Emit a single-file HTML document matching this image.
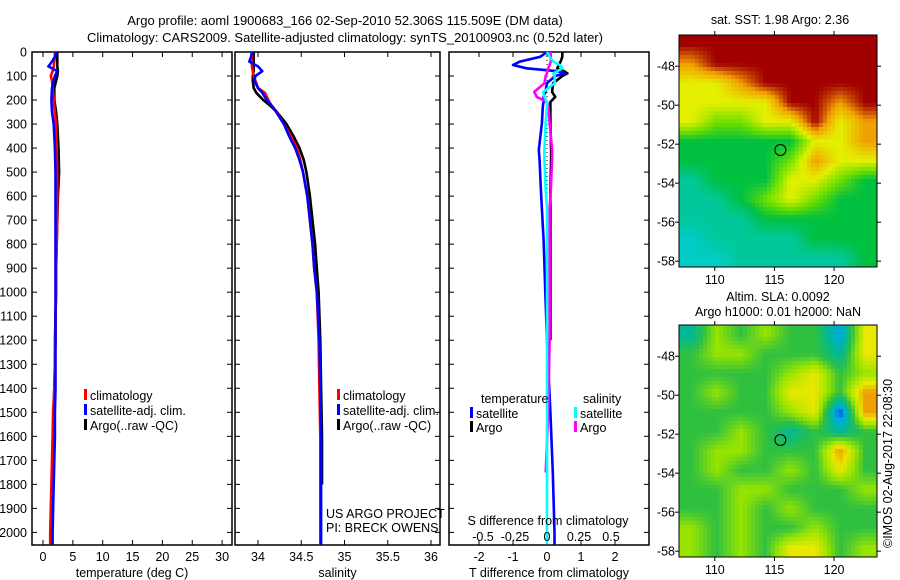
<!DOCTYPE html>
<html><head><meta charset="utf-8"><style>
html,body{margin:0;padding:0;background:#fff;}
svg{display:block;font-family:"Liberation Sans",sans-serif;}
text{font-size:12.5px;fill:#000;}
</style></head><body>
<svg id="fig" width="900" height="580" viewBox="0 0 900 580">
<text x="345" y="25" text-anchor="middle" style="font-size:13px">Argo profile: aoml 1900683_166 02-Sep-2010 52.306S 115.509E (DM data)</text>
<text x="345" y="42" text-anchor="middle" style="font-size:13px">Climatology: CARS2009. Satellite-adjusted climatology: synTS_20100903.nc (0.52d later)</text>
<g id="g"></g>
</svg>
<script>
// ---- data ----
const depthTicks=[0,100,200,300,400,500,600,700,800,900,1000,1100,1200,1300,1400,1500,1600,1700,1800,1900,2000];
const tempTicks=[0,5,10,15,20,25,30];
const salTicks=[34,34.5,35,35.5,36];
const tdiffTicks=[-2,-1,0,1,2];
const sdiffTicks=[-0.5,-0.25,0,0.25,0.5];
const tDepth=[0,20,40,60,80,100,120,150,200,250,300,400,500,600,700,800,900,1000,1100,1200,1300,1400,1500,1600,1700,1800,1900,2000,2050];
const tClim=[2.0,2.0,1.9,1.8,1.6,1.3,1.5,1.6,1.8,2.0,2.2,2.3,2.4,2.4,2.4,2.3,2.2,2.2,2.1,2.0,2.0,1.9,1.7,1.6,1.5,1.4,1.3,1.2,1.2];
const tSat=[2.2,2.0,1.5,0.9,2.4,2.0,1.8,1.5,1.4,1.5,1.8,2.0,2.1,2.1,2.1,2.1,2.1,2.1,2.1,2.1,2.1,2.1,2.0,2.0,1.9,1.8,1.7,1.6,1.6];
const tArgo=[2.4,2.4,2.4,2.4,2.5,2.4,2.2,1.9,1.9,2.2,2.4,2.6,2.7,2.5,2.4,2.3,2.2,2.2,2.1,2.1,2.0,1.9,1.8,1.7,1.6];
const sDepth=[0,20,40,60,80,100,120,150,170,200,220,250,300,350,400,450,500,600,700,800,900,1000,1200,1400,1600,1800,2000,2050];
const sClim=[33.93,33.93,33.93,33.93,33.94,33.95,33.97,34.0,34.08,34.12,34.15,34.22,34.3,34.38,34.45,34.49,34.52,34.57,34.6,34.63,34.65,34.68,34.7,34.71,34.72,34.72,34.72,34.72];
const sSat=[33.93,33.92,33.90,34.0,34.05,33.97,33.96,34.0,34.05,34.10,34.15,34.21,34.3,34.36,34.43,34.48,34.52,34.57,34.6,34.63,34.65,34.68,34.71,34.72,34.73,34.73,34.73,34.73];
const sArgo=[33.95,33.95,33.95,33.95,33.95,33.94,33.94,33.95,33.98,34.06,34.13,34.22,34.33,34.41,34.48,34.53,34.56,34.6,34.63,34.66,34.68,34.70,34.72,34.73,34.74,34.74];
const dDepth=[0,20,40,54,68,80,89,100,130,166,187,208,222,296,408,444,575,653,783,1000,1200,1500,1750,2000,2050];
const dTSat=[0,-0.2,-0.8,-1.0,-0.6,0.3,0.53,0.24,0.0,-0.05,-0.1,-0.1,-0.12,-0.15,-0.24,-0.22,-0.18,-0.15,-0.1,-0.05,0.0,0.1,0.17,0.22,0.22];
const dTArgo=[0.45,0.45,0.4,0.35,0.3,0.5,0.6,0.45,0.18,0.15,0.24,0.1,0.1,0.1,0.12,0.12,0.1,0.1,0.1,0.1,0.1];
const dSSat=[0,0.02,0.05,0.1,0.12,0.08,0.05,0.06,0.06,-0.03,-0.02,0,0,-0.01,-0.02,-0.02,-0.01,0,0,0,0,0,0,0,0];
const dSArgo=[0.03,0.03,0.03,0.02,0.01,0,0,-0.01,-0.02,-0.1,-0.08,0,0.01,0.02,0.04,0.04,0.03,0.02,0.02,0.02,0.02,0.01,-0.01];
const lonTicks=[110,115,120];
const latTicks=[-48,-50,-52,-54,-56,-58];
const sstGrid=[
[6,6,6,6,6,6,6,6],[5,6,6,6,6,6,6,6],[4,4,5,6,6,6,6,6],[4,4,4,4,6,6,5,6],
[4,3,3,4,4,6,4,5],[2,2,2,2,2,4,4,5],[2,2,2,2,3,5,4,4],[1,2,2,2,4,4,3,2],
[1,1,2,3,4,3,2,2],[1,1,1,2,2,2,2,2],[0,1,1,1,1,2,2,2],[0,0,1,1,1,1,1,2]];
const slaGrid=[
[-1,1,0,1,0,0,-2,2],[0,1,1,0,0,0,-1,2],[0,0,0,0,1,2,0,1],[0,1,0,0,2,2,0,3],
[0,0,0,0,1,2,-3,3],[0,0,1,0,-1,0,-1,0],[0,1,1,0,0,0,3,0],[0,1,0,0,1,0,2,0],
[0,0,1,1,0,0,0,1],[0,0,1,0,1,0,0,0],[1,0,1,0,0,1,0,0],[1,0,1,0,2,2,0,1]];
const sstStops=[[0,204,196],[0,200,156],[0,192,64],[112,224,0],[228,240,0],[240,160,0],[160,0,0]];
const slaStops=[[0,64,224],[0,168,224],[0,184,152],[48,192,64],[152,228,0],[232,232,0],[240,160,0]];

const NS="http://www.w3.org/2000/svg";
const G=document.getElementById('g');
function el(tag,attrs,parent){const e=document.createElementNS(NS,tag);for(const k in attrs)e.setAttribute(k,attrs[k]);(parent||G).appendChild(e);return e;}
function txt(x,y,s,anchor,parent){const t=el('text',{x:x,y:y,'text-anchor':anchor||'start'},parent);t.textContent=s;return t;}

const TOP=52,BOT=545;
const yD=d=>TOP+d*0.2402;
const panels=[
 {name:'temperature',x0:32,x1:232,fx:v=>43+v*5.97,ticks:tempTicks,label:'temperature (deg C)'},
 {name:'salinity',x0:235,x1:440,fx:v=>258+(v-34)*86.5,ticks:salTicks,label:'salinity'},
 {name:'difference',x0:449,x1:649,fx:v=>547+v*34,ticks:tdiffTicks,label:'T difference from climatology'}];
const fS=v=>547+v*128;

panels.forEach((p,i)=>{
  const g=el('g',{});
  
  
  const f=el('rect',{x:p.x0,y:TOP,width:p.x1-p.x0,height:BOT-TOP,fill:'none',stroke:'#000','stroke-width':1.5},g);
  
  
  depthTicks.forEach(d=>{
    el('line',{x1:p.x0,x2:p.x0+5,y1:yD(d),y2:yD(d),stroke:'#000'},g);
    el('line',{x1:p.x1,x2:p.x1-5,y1:yD(d),y2:yD(d),stroke:'#000'},g);
  });
  p.ticks.forEach(v=>{
    const x=p.fx(v);
    el('line',{x1:x,x2:x,y1:BOT,y2:BOT-5,stroke:'#000'},g);
    el('line',{x1:x,x2:x,y1:TOP,y2:TOP+5,stroke:'#000'},g);
    const t=txt(x,561,String(v),'middle',g);
    
    
  });
  const xl=txt((p.x0+p.x1)/2,577,p.label,'middle',g);
  
  
});
depthTicks.forEach(d=>{
  const t=txt(27,yD(d)+4.5,String(d),'end');
  
  
});

function line(fx,vals,depths,color,name){
  const pts=vals.map((v,i)=>fx(v).toFixed(1)+','+yD(depths[i]).toFixed(1)).join(' ');
  const pl=el('polyline',{points:pts,fill:'none',stroke:color,'stroke-width':2.6,'stroke-linejoin':'round'});
  
  
}
const fT=panels[0].fx,fSal=panels[1].fx,fD=panels[2].fx;
line(fT,tArgo,tDepth,'#000','temp-argo-line');
line(fT,tClim,tDepth,'#f00','temp-climatology-line');
line(fT,tSat,tDepth,'#00f','temp-satellite-line');
line(fSal,sArgo,sDepth,'#000','sal-argo-line');
line(fSal,sClim,sDepth,'#f00','sal-climatology-line');
line(fSal,sSat,sDepth,'#00f','sal-satellite-line');
el('line',{x1:547,x2:547,y1:TOP,y2:BOT,stroke:'#000','stroke-dasharray':'1,3'});
line(fD,dTArgo,dDepth,'#000','tdiff-argo-line');
line(fD,dTSat,dDepth,'#00f','tdiff-satellite-line');
line(fS,dSArgo,dDepth,'#f0f','sdiff-argo-line');
line(fS,dSSat,dDepth,'#0ff','sdiff-satellite-line');

// legends
function legend(x,y,color,label,name){
  const g=el('g',{});
  
  
  el('rect',{x:x,y:y-11,width:3,height:11,fill:color},g);
  txt(x+6,y,label,'start',g);
}
[[400,'#f00','climatology'],[415,'#00f','satellite-adj. clim.'],[430,'#000','Argo(..raw -QC)']].forEach((r,i)=>{
  legend(84,r[0],r[1],r[2],'legend-entry');
  legend(337,r[0],r[1],r[2],'legend-entry');
});
txt(481,403,'temperature');
txt(583,403,'salinity');
legend(470,418,'#00f','satellite','legend-entry');
legend(470,432,'#000','Argo','legend-entry');
legend(574,418,'#0ff','satellite','legend-entry');
legend(574,432,'#f0f','Argo','legend-entry');
txt(326,518,'US ARGO PROJECT');
txt(326,532,'PI: BRECK OWENS');
txt(548,525,'S difference from climatology','middle');
sdiffTicks.forEach(v=>txt(fS(v),541,String(v),'middle'));

// maps
const LON0=107,LON1=123.6,LAT0=-46.4,LAT1=-58.3;
function cmap(stops,v,off){
  let t=v+off; t=Math.max(0,Math.min(stops.length-1,t));
  const i=Math.min(stops.length-2,Math.floor(t)),f=t-i;
  const a=stops[i],b=stops[i+1];
  return 'rgb('+a.map((c,k)=>Math.round(c+(b[k]-c)*f)).join(',')+')';
}
function sample(grid,gx,gy){
  const rows=grid.length,cols=grid[0].length;
  gx=Math.max(0,Math.min(cols-1,gx));gy=Math.max(0,Math.min(rows-1,gy));
  const x0=Math.min(cols-2,Math.floor(gx)),y0=Math.min(rows-2,Math.floor(gy));
  const fx=gx-x0,fy=gy-y0;
  const v00=grid[y0][x0],v10=grid[y0][x0+1],v01=grid[y0+1][x0],v11=grid[y0+1][x0+1];
  return (v00*(1-fx)+v10*fx)*(1-fy)+(v01*(1-fx)+v11*fx)*fy;
}
function map(x0,y0,w,h,grid,stops,off,name){
  const g=el('g',{});
  
  
  const fx=lon=>x0+(lon-LON0)/(LON1-LON0)*w;
  const fy=lat=>y0+(lat-LAT0)/(LAT1-LAT0)*h;
  const rows=grid.length,cols=grid[0].length;
  const cw=w/cols,ch=h/rows;
  const step=4;
  for(let py=0;py<h;py+=step){
    for(let px=0;px<w;px+=step){
      const gx=(px+step/2)/cw-0.5, gy=(py+step/2)/ch-0.5;
      const v=sample(grid,gx,gy);
      const cell=el('rect',{x:x0+px,y:y0+py,width:Math.min(step,w-px)+0.3,height:Math.min(step,h-py)+0.3,fill:cmap(stops,v,off)},g);
      
      
    }
  }
  el('rect',{x:x0,y:y0,width:w,height:h,fill:'none',stroke:'#000','stroke-width':1},g);
  lonTicks.forEach(l=>{
    el('line',{x1:fx(l),x2:fx(l),y1:y0,y2:y0-4,stroke:'#000'},g);
    el('line',{x1:fx(l),x2:fx(l),y1:y0+h,y2:y0+h+4,stroke:'#000'},g);
    txt(fx(l),y0+h+17,String(l),'middle',g);
  });
  latTicks.forEach(l=>{
    el('line',{x1:x0,x2:x0-4,y1:fy(l),y2:fy(l),stroke:'#000'},g);
    el('line',{x1:x0+w,x2:x0+w+4,y1:fy(l),y2:fy(l),stroke:'#000'},g);
    txt(x0-4,fy(l)+4.5,String(l),'end',g);
  });
  const c=el('circle',{cx:fx(115.5),cy:fy(-52.3),r:5.5,fill:'none',stroke:'#000','stroke-width':1},g);
  
  
}
map(679,35,198,232,sstGrid,sstStops,0,'sst-map');
map(679,325,198,232,slaGrid,slaStops,3,'sla-map');
txt(780,24,'sat. SST: 1.98 Argo: 2.36','middle');
txt(778,301,'Altim. SLA: 0.0092','middle');
txt(778,316,'Argo h1000: 0.01 h2000: NaN','middle');
const cr=txt(0,0,'©IMOS 02-Aug-2017 22:08:30','start');
cr.setAttribute('transform','translate(892,548) rotate(-90)');


</script>
</body></html>
